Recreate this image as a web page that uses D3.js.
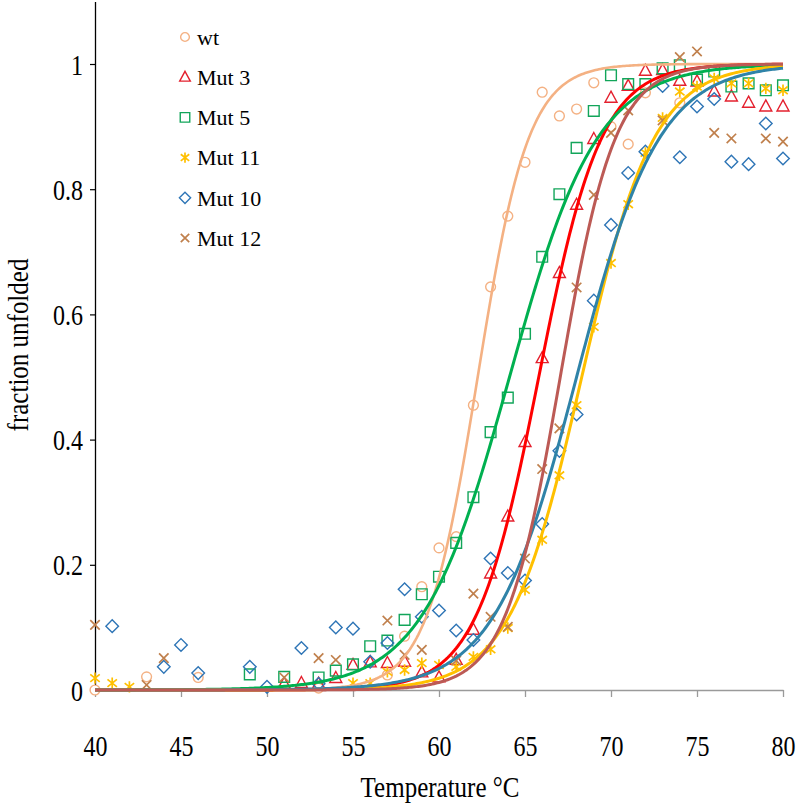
<!DOCTYPE html>
<html>
<head>
<meta charset="utf-8">
<script src="https://cdn.jsdelivr.net/npm/d3@7"></script>
<style>
  html, body { margin: 0; padding: 0; background: #fff; }
  svg { display: block; }
  text { font-family: "Liberation Serif", "Times New Roman", serif; fill: #000; }
</style>
</head>
<body>
<svg id="chart" width="800" height="806"></svg>
<script>
// ---------- data ----------
const seriesNames = ["wt", "Mut 3", "Mut 5", "Mut 11", "Mut 10", "Mut 12"];

const wtT   = [40, 43, 46, 53, 57, 58, 59, 60, 61, 62, 63, 64, 65, 66, 67, 68, 69, 70, 71, 72, 74];
const wtF   = [0.00, 0.021, 0.02, 0.003, 0.024, 0.086, 0.165, 0.227, 0.245, 0.455, 0.644, 0.757, 0.843, 0.955, 0.917, 0.928, 0.97, 0.90, 0.872, 0.954, 0.938];

const mut3T = [51, 52, 53, 54, 55, 56, 57, 58, 59, 60, 61, 62, 63, 64, 65, 66, 67, 68, 69, 70, 71, 72, 73, 74, 75, 76, 77, 78, 79, 80];
const mut3F = [0.01, 0.011, 0.01, 0.019, 0.04, 0.044, 0.043, 0.045, 0.028, 0.02, 0.048, 0.096, 0.186, 0.277, 0.396, 0.53, 0.666, 0.775, 0.88, 0.946, 0.965, 0.989, 0.99, 0.973, 0.972, 0.956, 0.948, 0.938, 0.932, 0.932];

const mut5T = [49, 51, 53, 54, 55, 56, 57, 58, 59, 60, 61, 62, 63, 64, 65, 66, 67, 68, 69, 70, 71, 72, 73, 74, 75, 76, 77, 78, 79, 80];
const mut5F = [0.025, 0.021, 0.02, 0.031, 0.041, 0.07, 0.079, 0.112, 0.153, 0.181, 0.235, 0.308, 0.412, 0.467, 0.569, 0.692, 0.792, 0.866, 0.925, 0.982, 0.968, 0.968, 0.993, 0.998, 0.975, 0.988, 0.964, 0.969, 0.958, 0.966];

const mut11T = [40, 41, 42, 55, 56, 57, 58, 59, 60, 61, 62, 63, 64, 65, 66, 67, 68, 69, 70, 71, 72, 73, 74, 75, 76, 77, 78, 79, 80];
const mut11F = [0.019, 0.011, 0.005, 0.011, 0.011, 0.029, 0.032, 0.043, 0.04, 0.037, 0.053, 0.065, 0.099, 0.16, 0.24, 0.343, 0.455, 0.58, 0.682, 0.776, 0.858, 0.914, 0.956, 0.964, 0.977, 0.969, 0.969, 0.961, 0.958];

const mut10T = [41, 44, 45, 46, 49, 50, 52, 53, 54, 55, 56, 57, 58, 59, 60, 61, 62, 63, 64, 65, 66, 67, 68, 69, 70, 71, 72, 73, 74, 75, 76, 77, 78, 79, 80];
const mut10F = [0.102, 0.037, 0.072, 0.027, 0.037, 0.005, 0.067, 0.01, 0.10, 0.098, 0.045, 0.075, 0.161, 0.117, 0.127, 0.095, 0.08, 0.21, 0.187, 0.175, 0.265, 0.382, 0.44, 0.622, 0.743, 0.826, 0.86, 0.965, 0.851, 0.932, 0.944, 0.844, 0.84, 0.905, 0.849];

const mut12T = [40, 43, 44, 51, 53, 54, 57, 58, 59, 61, 62, 63, 64, 65, 66, 67, 68, 69, 70, 71, 73, 74, 75, 76, 77, 79, 80];
const mut12F = [0.104, 0.008, 0.051, 0.02, 0.051, 0.048, 0.111, 0.056, 0.064, 0.047, 0.154, 0.117, 0.101, 0.21, 0.353, 0.418, 0.643, 0.791, 0.89, 0.926, 0.91, 1.011, 1.02, 0.89, 0.881, 0.881, 0.876];

// fitted two-state (sigmoid) trendlines: midpoint Tm and slope width (°C)
const fitTm    = [62.25, 65.8, 64.1, 68.3, 68.0, 67.05];
const fitSlope = [1.48, 1.82, 2.55, 2.1, 2.4, 1.6];

const xTicks = [40, 45, 50, 55, 60, 65, 70, 75, 80];
const yTicks = [0, 0.2, 0.4, 0.6, 0.8, 1];

// ---------- styling ----------
const markerColors = ["#F4B183", "#E4202E", "#12A55A", "#FFC000", "#2E75B6", "#C0804D"];
const lineColors   = ["#F4B183", "#FF0000", "#00B050", "#FFC000", "#2F83A8", "#BC5A55"];
const shapes       = ["circle", "triangle", "square", "star", "diamond", "x"];
const TEXT_STRETCH = 1.22;   // the reference's axis text is taller than wide

const tables = [[wtT, wtF], [mut3T, mut3F], [mut5T, mut5F], [mut11T, mut11F], [mut10T, mut10F], [mut12T, mut12F]];
const series = seriesNames.map((name, i) => ({
  name, shape: shapes[i], mc: markerColors[i], lc: lineColors[i],
  tm: fitTm[i], s: fitSlope[i],
  points: tables[i][0].map((t, j) => ({ t, f: tables[i][1][j] }))
}));

const svg = d3.select("#chart");
const x = d3.scaleLinear().domain([40, 80]).range([95, 783]);
const y = d3.scaleLinear().domain([0, 1.1]).range([690, 1.4]);

function markerPath(shape, r) {
  switch (shape) {
    case "triangle": return `M0,${-r*1.05} L${r*0.95},${r*0.7} L${-r*0.95},${r*0.7} Z`;
    case "square":   return `M${-r*0.85},${-r*0.85} h${r*1.7} v${r*1.7} h${-r*1.7} Z`;
    case "diamond":  return `M0,${-r} L${r},0 L0,${r} L${-r},0 Z`;
    case "x":        return `M${-r*0.75},${-r*0.75} L${r*0.75},${r*0.75} M${r*0.75},${-r*0.75} L${-r*0.75},${r*0.75}`;
    case "star":     return `M${-r*0.75},${-r*0.6} L${r*0.75},${r*0.6} M${r*0.75},${-r*0.6} L${-r*0.75},${r*0.6} M0,${-r*0.9} L0,${r*0.9}`;
  }
  return "";
}
function drawMarker(g, shape, color, r) {
  if (shape === "circle") {
    g.append("circle").attr("r", r * 0.78).attr("fill", "#fff")
      .attr("stroke", color).attr("stroke-width", 1.4);
  } else {
    g.append("path").attr("d", markerPath(shape, r))
      .attr("fill", "none").attr("stroke", color)
      .attr("stroke-width", shape === "star" || shape === "x" ? 1.7 : 1.4);
  }
}

// ---------- axes ----------
const xAxis = d3.axisBottom(x).tickValues(xTicks).tickSize(7).tickSizeOuter(0);
const gx = svg.append("g").attr("transform", "translate(0,690)").call(xAxis);
gx.select(".domain").attr("stroke", "#9a9a9a").attr("stroke-width", 1.3);
gx.selectAll(".tick line").attr("stroke", "#9a9a9a").attr("stroke-width", 1.3);
gx.selectAll(".tick text")
  .attr("y", 0).attr("dy", 0)
  .attr("transform", `translate(0,66) scale(1,${TEXT_STRETCH})`)
  .style("font-size", "24px").attr("fill", "#000");

const yAxis = d3.axisLeft(y).tickValues(yTicks).tickSize(5).tickSizeOuter(0)
  .tickFormat(d => d3.format("~g")(d));
const gy = svg.append("g").attr("transform", "translate(95,0)").call(yAxis);
gy.select(".domain").attr("stroke", "#000").attr("stroke-width", 1.3);
gy.selectAll(".tick line").attr("stroke", "#000").attr("stroke-width", 1.2);
gy.selectAll(".tick text")
  .attr("x", 0).attr("dy", 0)
  .attr("transform", `translate(-12,10) scale(1,${TEXT_STRETCH})`)
  .style("font-size", "24px").attr("fill", "#000");

svg.append("text")
  .attr("transform", `translate(440,797) scale(1,${TEXT_STRETCH})`)
  .attr("text-anchor", "middle").style("font-size", "25px").text("Temperature °C");
svg.append("text")
  .attr("transform", `translate(28,345) rotate(-90) scale(1,${TEXT_STRETCH})`)
  .attr("text-anchor", "middle").style("font-size", "25px").text("fraction unfolded");

// ---------- markers ----------
const plot = svg.append("g");
series.forEach(s => {
  const g = plot.append("g");
  s.points.forEach(p => {
    const m = g.append("g").attr("transform", `translate(${x(p.t)},${y(p.f)})`);
    drawMarker(m, s.shape, s.mc, 6.3);
  });
});

// ---------- fitted curves ----------
const line = d3.line().x(d => x(d.t)).y(d => y(d.f));
series.forEach(s => {
  const pts = d3.range(40, 80.001, 0.1).map(t => ({ t, f: 1 / (1 + Math.exp((s.tm - t) / s.s)) }));
  plot.append("path").datum(pts).attr("d", line)
    .attr("fill", "none").attr("stroke", s.lc)
    .attr("stroke-width", s.name === "wt" ? 2.6 : 3);
});

// ---------- legend ----------
const legend = svg.append("g");
series.forEach((s, i) => {
  const yy = 37 + i * 40.2;
  const m = legend.append("g").attr("transform", `translate(185,${yy})`);
  drawMarker(m, s.shape, s.mc, 5.6);
  legend.append("text").attr("x", 197).attr("y", yy).attr("dy", "0.35em")
    .style("font-size", "22px").text(s.name);
});
</script>
</body>
</html>
